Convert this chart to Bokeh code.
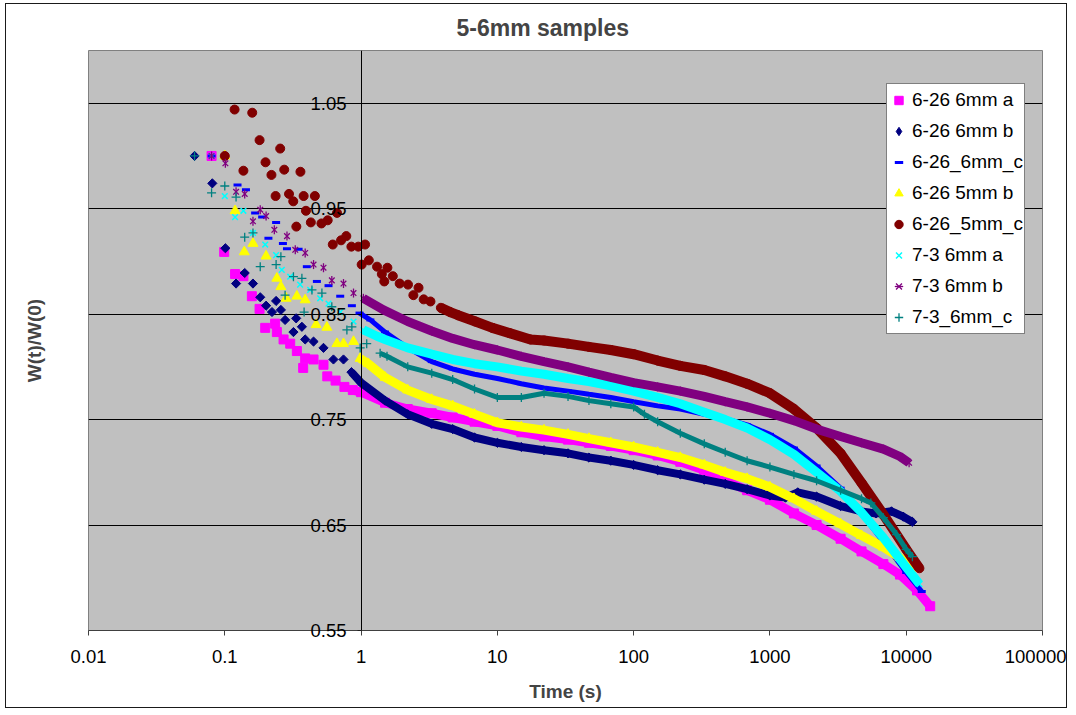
import math
from bokeh.plotting import figure
from bokeh.models import (FixedTicker, Legend, LegendItem, LinearAxis, Range1d,
                          CustomJSTickFormatter)
from bokeh.embed import file_html
from bokeh.resources import INLINE

TITLE = "5-6mm samples"
X_LABEL = "Time (s)"
Y_LABEL = "W(t)/W(0)"
X_TICKS = [0.01, 0.1, 1, 10, 100, 1000, 10000, 100000]
X_TICK_LABELS = ["0.01", "0.1", "1", "10", "100", "1000", "10000", "100000"]
Y_TICKS = [0.55, 0.65, 0.75, 0.85, 0.95, 1.05]
Y_TICK_LABELS = ["0.55", "0.65", "0.75", "0.85", "0.95", "1.05"]
Y_AXIS_AT = 1

NAMES = ["6-26 6mm a", "6-26 6mm b", "6-26_6mm_c", "6-26 5mm b",
         "6-26_5mm_c", "7-3 6mm a", "7-3 6mm b", "7-3_6mm_c"]

# 6-26 6mm a
T_A = [0.08, 0.099, 0.119, 0.137, 0.158, 0.18, 0.198, 0.234, 0.241, 0.27, 0.302, 0.338,
       0.376, 0.389, 0.448, 0.53, 0.565, 0.65, 0.755, 0.87, 1.0, 1.5, 2.2, 3.3, 4.7, 6.8,
       10, 15, 22, 33, 47, 68, 100, 150, 220, 330, 470, 680, 1000, 1500, 2200, 3300,
       4700, 6800, 9000, 12000, 15000]
W_A = [1.0, 0.909, 0.888, 0.886, 0.867, 0.855, 0.837, 0.841, 0.833, 0.826, 0.822, 0.815,
       0.799, 0.808, 0.807, 0.802, 0.791, 0.787, 0.781, 0.778, 0.776, 0.766, 0.760, 0.756,
       0.752, 0.748, 0.744, 0.738, 0.734, 0.731, 0.728, 0.725, 0.721, 0.716, 0.710, 0.702,
       0.692, 0.683, 0.674, 0.661, 0.650, 0.637, 0.625, 0.613, 0.603, 0.588, 0.573]

# 6-26 6mm b
T_B = [0.06, 0.081, 0.101, 0.121, 0.14, 0.161, 0.182, 0.201, 0.222, 0.238, 0.258, 0.277,
       0.319, 0.334, 0.368, 0.389, 0.448, 0.53, 0.627, 0.743, 0.85, 1.0, 1.5, 2.2, 3.3,
       4.7, 6.8, 10, 15, 22, 33, 47, 68, 100, 150, 220, 330, 470, 680, 1000, 1300, 1600,
       2200, 3300, 4700, 6000, 7800, 9500, 11100]
W_B = [1.0, 0.974, 0.9125, 0.879, 0.889, 0.879, 0.866, 0.858, 0.852, 0.8625, 0.854, 0.8445,
       0.833, 0.846, 0.838, 0.826, 0.824, 0.818, 0.807, 0.807, 0.795, 0.785, 0.768, 0.755,
       0.746, 0.741, 0.733, 0.728, 0.724, 0.721, 0.718, 0.714, 0.711, 0.707, 0.702, 0.698,
       0.693, 0.689, 0.684, 0.678, 0.676, 0.681, 0.677, 0.668, 0.663, 0.661, 0.663, 0.658,
       0.653]

# 6-26_6mm_c
T_C = [0.08, 0.124, 0.143, 0.167, 0.188, 0.209, 0.238, 0.267, 0.286, 0.348, 0.40, 0.474,
       0.577, 0.703, 0.856, 0.974, 1.17, 1.5, 2.2, 3.3, 4.7, 6.8, 10, 15, 22, 33, 47, 68,
       100, 150, 220, 330, 470, 680, 1000, 1500, 2200, 3300, 4700, 6800, 10000, 13000]
W_C = [1.0, 0.9725, 0.968, 0.946, 0.942, 0.922, 0.937, 0.917, 0.912, 0.9115, 0.895, 0.881,
       0.877, 0.867, 0.858, 0.851, 0.8445, 0.833, 0.818, 0.805, 0.798, 0.793, 0.789, 0.784,
       0.780, 0.777, 0.774, 0.771, 0.767, 0.763, 0.760, 0.755, 0.751, 0.745, 0.736, 0.723,
       0.706, 0.685, 0.661, 0.634, 0.605, 0.587]

# 6-26 5mm b
T_D = [0.1, 0.119, 0.139, 0.161, 0.201, 0.241, 0.258, 0.282, 0.338, 0.389, 0.468, 0.561,
       0.665, 0.743, 0.88, 0.985, 1.13, 1.5, 2.2, 3.3, 4.7, 6.8, 10, 15, 22, 33, 47, 68,
       100, 150, 220, 330, 470, 680, 1000, 1500, 2200, 3300, 4700, 6800, 9000, 11100]
W_D = [1.0, 0.948, 0.909, 0.917, 0.905, 0.884, 0.876, 0.865, 0.867, 0.8635, 0.840, 0.8375,
       0.822, 0.822, 0.824, 0.808, 0.803, 0.790, 0.778, 0.769, 0.763, 0.755, 0.747, 0.743,
       0.740, 0.736, 0.732, 0.728, 0.724, 0.719, 0.714, 0.707, 0.700, 0.694, 0.686, 0.675,
       0.663, 0.651, 0.640, 0.629, 0.619, 0.609]

# 6-26_5mm_c
T_E = [0.1, 0.118, 0.137, 0.159, 0.18, 0.199, 0.22, 0.236, 0.255, 0.273, 0.296, 0.318,
       0.335, 0.359, 0.379, 0.394, 0.428, 0.458, 0.512, 0.569, 0.62, 0.666, 0.713, 0.779,
       0.849, 0.954, 1.01, 1.07, 1.14, 1.31, 1.42, 1.48, 1.56, 1.71, 1.92, 2.21, 2.42,
       2.64, 2.88, 3.23, 3.85, 4.5, 5.15, 6.9, 9.2, 12.3, 17.5, 22, 33, 47, 68, 100, 150,
       220, 330, 470, 680, 1000, 1500, 2200, 3300, 4700, 6800, 10000, 12500]
W_E = [1.0, 1.044, 0.986, 1.041, 1.015, 0.994, 0.982, 0.962, 1.007, 0.987, 0.964, 0.957,
       0.933, 0.985, 0.962, 0.948, 0.937, 0.962, 0.936, 0.939, 0.916, 0.946, 0.920, 0.924,
       0.914, 0.914, 0.897, 0.916, 0.901, 0.895, 0.888, 0.881, 0.894, 0.886, 0.879, 0.878,
       0.868, 0.875, 0.864, 0.862, 0.856, 0.852, 0.849, 0.843, 0.837, 0.832, 0.826, 0.825,
       0.822, 0.819, 0.816, 0.812, 0.806, 0.801, 0.797, 0.791, 0.784, 0.775, 0.760, 0.742,
       0.718, 0.690, 0.660, 0.627, 0.609]

# 7-3 6mm a
T_F = [0.08, 0.1, 0.119, 0.137, 0.161, 0.198, 0.238, 0.262, 0.302, 0.357, 0.423, 0.501,
       0.577, 0.703, 0.88, 1.04, 1.31, 1.5, 2.2, 3.3, 4.7, 6.8, 10, 15, 22, 33, 47, 68,
       100, 150, 220, 330, 470, 680, 1000, 1500, 2200, 3300, 4700, 6800, 10000, 12500]
W_F = [1.0, 0.962, 0.942, 0.948, 0.927, 0.916, 0.906, 0.892, 0.8855, 0.878, 0.873, 0.865,
       0.860, 0.852, 0.843, 0.835, 0.829, 0.826, 0.818, 0.812, 0.807, 0.803, 0.800, 0.796,
       0.793, 0.789, 0.786, 0.782, 0.777, 0.771, 0.765, 0.757, 0.750, 0.742, 0.731, 0.717,
       0.700, 0.682, 0.662, 0.638, 0.610, 0.594]

# 7-3 6mm b
T_G = [0.08, 0.101, 0.121, 0.14, 0.161, 0.182, 0.201, 0.231, 0.286, 0.329, 0.389, 0.448,
       0.53, 0.61, 0.743, 0.88, 1.04, 1.46, 2.2, 3.3, 4.7, 6.8, 10, 15, 22, 33, 47, 68,
       100, 150, 220, 330, 470, 680, 1000, 1500, 2200, 3300, 4700, 6800, 9000, 10500]
W_G = [1.0, 0.993, 0.966, 0.964, 0.938, 0.949, 0.943, 0.930, 0.924, 0.911, 0.908, 0.897,
       0.894, 0.882, 0.879, 0.870, 0.865, 0.854, 0.843, 0.834, 0.827, 0.821, 0.816, 0.810,
       0.805, 0.800, 0.795, 0.790, 0.785, 0.781, 0.777, 0.772, 0.767, 0.762, 0.756, 0.749,
       0.741, 0.734, 0.728, 0.722, 0.715, 0.709]

# 7-3_6mm_c
T_H = [0.06, 0.08, 0.1, 0.121, 0.14, 0.161, 0.182, 0.238, 0.258, 0.277, 0.319, 0.368,
       0.382, 0.436, 0.516, 0.61, 0.787, 0.856, 0.985, 1.1, 1.38, 1.55, 2.2, 3.3, 4.7,
       6.8, 10, 15, 22, 33, 47, 68, 100, 120, 150, 220, 330, 470, 680, 1000, 1500, 2200,
       3300, 4700, 5500, 6800, 8500, 10000, 11100]
W_H = [1.0, 0.965, 0.9715, 0.961, 0.923, 0.927, 0.895, 0.897, 0.9045, 0.868, 0.8855, 0.884,
       0.852, 0.873, 0.870, 0.857, 0.835, 0.838, 0.818, 0.822, 0.813, 0.810, 0.800, 0.794,
       0.788, 0.779, 0.771, 0.771, 0.775, 0.772, 0.768, 0.765, 0.762, 0.755, 0.748, 0.737,
       0.727, 0.719, 0.711, 0.705, 0.698, 0.692, 0.683, 0.675, 0.671, 0.657, 0.641, 0.627,
       0.620]

FONT = "Liberation Sans"

p = figure(width=1062, height=705, x_axis_type="log",
           x_range=Range1d(0.01, 100000), y_range=Range1d(0.55, 1.1),
           output_backend="svg", toolbar_location=None,
           min_border_left=82, min_border_right=26, min_border_top=46,
           min_border_bottom=79)
p.styles = {"border": "1.5px solid #1a1a1a", "margin-left": "5px", "margin-top": "3px"}
p.background_fill_color = "#C0C0C0"
p.border_fill_color = "white"
p.outline_line_color = "#808080"
p.outline_line_width = 1

p.title.text = TITLE
p.title.text_font = FONT
p.title.text_font_style = "bold"
p.title.text_font_size = "23px"
p.title.align = "left"
p.title.vertical_align = "top"
p.title.offset = 368
p.title.standoff = 16

# x axis
xa = p.xaxis[0]
xa.ticker = FixedTicker(ticks=X_TICKS)
xa.major_label_overrides = dict(zip(X_TICKS, X_TICK_LABELS))
xa.minor_tick_line_color = None
xa.major_tick_out = 5
xa.major_tick_in = 0
xa.axis_line_color = "#404040"
xa.major_tick_line_color = "#404040"
xa.major_label_text_font = FONT
xa.major_label_text_font_size = "18.5px"
xa.major_label_text_color = "black"
xa.major_label_standoff = 14
xa.axis_label = X_LABEL
xa.axis_label_text_font = FONT
xa.axis_label_text_font_style = "bold"
xa.axis_label_text_font_size = "19px"
xa.axis_label_standoff = 15

# y axis line and ticks crossing at x = 1 (its labels come from a side axis below)
ya = p.yaxis[0]
ya.fixed_location = Y_AXIS_AT
ya.ticker = FixedTicker(ticks=Y_TICKS)
ya.formatter = CustomJSTickFormatter(code="return ''")
ya.minor_tick_line_color = None
ya.major_tick_out = 4
ya.major_tick_in = 0
ya.axis_line_color = "black"
ya.major_tick_line_color = "black"

# axis carrying only the y title at the far left
lab = LinearAxis(ticker=FixedTicker(ticks=[]), axis_label=Y_LABEL,
                 axis_line_color=None, major_tick_line_color=None,
                 minor_tick_line_color=None, major_label_text_font_size="0px",
                 axis_label_text_font=FONT, axis_label_text_font_style="bold",
                 axis_label_text_font_size="19px", axis_label_standoff=44)
p.add_layout(lab, "left")

# side axis whose tick labels are pulled in next to the x = 1 crossing (unclipped)
yl = LinearAxis(ticker=FixedTicker(ticks=Y_TICKS),
                major_label_overrides=dict(zip(Y_TICKS, Y_TICK_LABELS)),
                axis_line_color=None, major_tick_line_color=None,
                minor_tick_line_color=None, major_tick_out=0, major_tick_in=0,
                major_label_standoff=-326, major_label_text_font=FONT,
                major_label_text_font_size="18.5px", major_label_text_color="black")
p.add_layout(yl, "left")

p.xgrid.visible = False
p.ygrid.ticker = FixedTicker(ticks=Y_TICKS)
p.ygrid.grid_line_color = "black"
p.ygrid.grid_line_width = 1
p.ygrid.grid_line_alpha = 1

SERIES = [
    (T_A, W_A, "#FF00FF", 0.87, 9),
    (T_B, W_B, "#000080", 0.85, 8),
    (T_C, W_C, "#0000FF", 0.974, 5),
    (T_D, W_D, "#FFFF00", 0.985, 9),
    (T_E, W_E, "#800000", 3.85, 10),
    (T_F, W_F, "#00FFFF", 1.04, 9),
    (T_G, W_G, "#800080", 1.04, 9),
    (T_H, W_H, "#008080", 1.38, 5),
]

items = []
for i, (T, W, col, start, lw) in enumerate(SERIES):
    tl = [t for t in T if t >= start]
    wl = [w for t, w in zip(T, W) if t >= start]
    p.line(tl, wl, line_color=col, line_width=lw)
    rs = []
    if i == 0:
        rs.append(p.scatter(T, W, marker="square", size=9, fill_color=col, line_color=col))
    elif i == 1:
        p.scatter(T, W, marker="square", angle=math.pi / 4, size=6.5,
                  fill_color=col, line_color=col)
        # legend-only diamond symbol (single undrawable NaN row)
        rs.append(p.scatter([float("nan")], [float("nan")], marker="diamond", size=10,
                            fill_color=col, line_color=col))
    elif i == 2:
        rs.append(p.scatter(T, W, marker="dash", size=8, line_color=col, line_width=3))
    elif i == 3:
        rs.append(p.scatter(T, W, marker="triangle", size=10, fill_color=col, line_color=col))
    elif i == 4:
        rs.append(p.scatter(T, W, marker="circle", size=9, fill_color=col, line_color=col))
    elif i == 5:
        rs.append(p.scatter(T, W, marker="x", size=8, line_color=col, line_width=1.5))
    elif i == 6:
        rs.append(p.scatter(T, W, marker="x", size=8, line_color=col, line_width=1.3))
        rs.append(p.scatter(T, W, marker="dash", angle=math.pi / 2, size=9,
                            line_color=col, line_width=1.3))
    else:
        rs.append(p.scatter(T, W, marker="cross", size=9, line_color=col, line_width=1.3))
    items.append(LegendItem(label=NAMES[i], renderers=rs))

legend = Legend(items=items, location=(798, 296))
legend.label_text_font = FONT
legend.label_text_font_size = "19px"
legend.label_text_color = "black"
legend.border_line_color = "black"
legend.border_line_width = 1
legend.background_fill_color = "white"
legend.background_fill_alpha = 1
legend.padding = 1
legend.spacing = 1
legend.margin = 0
legend.glyph_width = 21
legend.glyph_height = 30
legend.label_height = 30
legend.label_standoff = 3
p.add_layout(legend)

open("out.html", "w").write(file_html(p, INLINE))
